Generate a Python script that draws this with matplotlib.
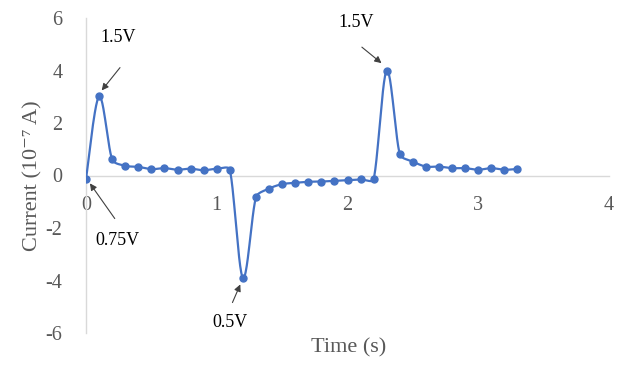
import numpy as np
import matplotlib
matplotlib.use("Agg")
import matplotlib.pyplot as plt

# ── data ────────────────────────────────────────────────────────────────────
time_s = [0.0, 0.1, 0.2, 0.3, 0.4, 0.5, 0.6, 0.7, 0.8, 0.9, 1.0, 1.1,
          1.2, 1.3, 1.4, 1.5, 1.6, 1.7, 1.8, 1.9, 2.0, 2.1, 2.2,
          2.3, 2.4, 2.5, 2.6, 2.7, 2.8, 2.9, 3.0, 3.1, 3.2, 3.3]
current = [-0.13, 3.01, 0.61, 0.37, 0.33, 0.24, 0.28, 0.22, 0.26, 0.20, 0.26, 0.22,
           -3.90, -0.83, -0.50, -0.33, -0.28, -0.24, -0.23, -0.20, -0.18, -0.15, -0.14,
           4.00, 0.81, 0.53, 0.34, 0.34, 0.28, 0.28, 0.22, 0.28, 0.22, 0.25]

x_ticks = [0, 1, 2, 3, 4]
y_ticks = [-6, -4, -2, 0, 2, 4, 6]

# label text, arrow tip, arrow tail, text position (data coords)
notes = [
    ("1.5V", (0.12, 3.24), (0.26, 4.11), (0.245, 5.26)),
    ("0.75V", (0.03, -0.30), (0.22, -1.64), (0.24, -2.48)),
    ("0.5V", (1.18, -4.15), (1.12, -4.84), (1.10, -5.60)),
    ("1.5V", (2.26, 4.28), (2.11, 4.89), (2.07, 5.83)),
]

BLUE = "#4472C4"
GRAY = "#595959"
AXIS = "#D9D9D9"
SERIF = "Liberation Serif"

plt.rcParams["axes.unicode_minus"] = False


def smooth_line(x, y, sx, sy, steps=24):
    # spreadsheet-style smoothing: Catmull-Rom Bezier, control arms clipped
    # to a third of the segment length (in screen units) to avoid big humps
    P = np.column_stack([np.asarray(x, float) * sx, np.asarray(y, float) * sy])
    n = len(P)
    t = np.linspace(0, 1, steps, endpoint=False)[:, None]
    out = []
    for i in range(n - 1):
        seg = np.hypot(*(P[i + 1] - P[i])) / 3
        a1 = (P[i + 1] - P[max(i - 1, 0)]) / 6
        a2 = (P[min(i + 2, n - 1)] - P[i]) / 6
        if np.hypot(*a1) > seg:
            a1 = a1 / np.hypot(*a1) * seg
        if np.hypot(*a2) > seg:
            a2 = a2 / np.hypot(*a2) * seg
        c1 = P[i] + a1
        c2 = P[i + 1] - a2
        out.append((1 - t) ** 3 * P[i] + 3 * (1 - t) ** 2 * t * c1
                   + 3 * (1 - t) * t ** 2 * c2 + t ** 3 * P[i + 1])
    out.append(P[-1:])
    out = np.vstack(out)
    return out[:, 0] / sx, out[:, 1] / sy


fig = plt.figure(figsize=(6.3, 3.65), dpi=100)
ax = fig.add_axes([86 / 630, 32 / 365, 523 / 630, 315 / 365])

lx, ly = smooth_line(time_s, current, 523 / 4, 315 / 12)
ax.plot(lx, ly, color=BLUE, linewidth=1.6, zorder=3)
ax.plot(time_s, current, "o", color=BLUE, markersize=5, zorder=4)

ax.set_xlim(0, 4)
ax.set_ylim(-6, 6)
ax.set_xticks(x_ticks)
ax.set_yticks(y_ticks)

for sp in ("top", "right"):
    ax.spines[sp].set_visible(False)
ax.spines["bottom"].set_position(("data", 0))
ax.spines["bottom"].set_color(AXIS)
ax.spines["left"].set_color(AXIS)
ax.spines["bottom"].set_linewidth(1.0)
ax.spines["left"].set_linewidth(1.0)

ax.tick_params(axis="both", length=0, labelsize=14.5, labelcolor=GRAY)
ax.tick_params(axis="x", pad=15)
ax.tick_params(axis="y", pad=17)
for lab in ax.get_xticklabels() + ax.get_yticklabels():
    lab.set_family(SERIF)

ax.set_ylabel("Current (10\u207b\u2077 A)", fontsize=16, color=GRAY,
              family=[SERIF, "DejaVu Serif"])
ax.yaxis.set_label_coords(-0.083, 0.5)
fig.text(349 / 630, 1 - 348 / 365, "Time (s)", fontsize=16, color=GRAY,
         family=SERIF, ha="center", va="center")

for label, tip, tail, pos in notes:
    ax.annotate("", xy=tip, xytext=tail,
                arrowprops=dict(arrowstyle="-|>", color="#404040", lw=0.8,
                                mutation_scale=10, shrinkA=0, shrinkB=0))
    ax.text(pos[0], pos[1], label, fontsize=13, family=SERIF, color="black",
            ha="center", va="center")

fig.savefig("out.png", dpi=100)
